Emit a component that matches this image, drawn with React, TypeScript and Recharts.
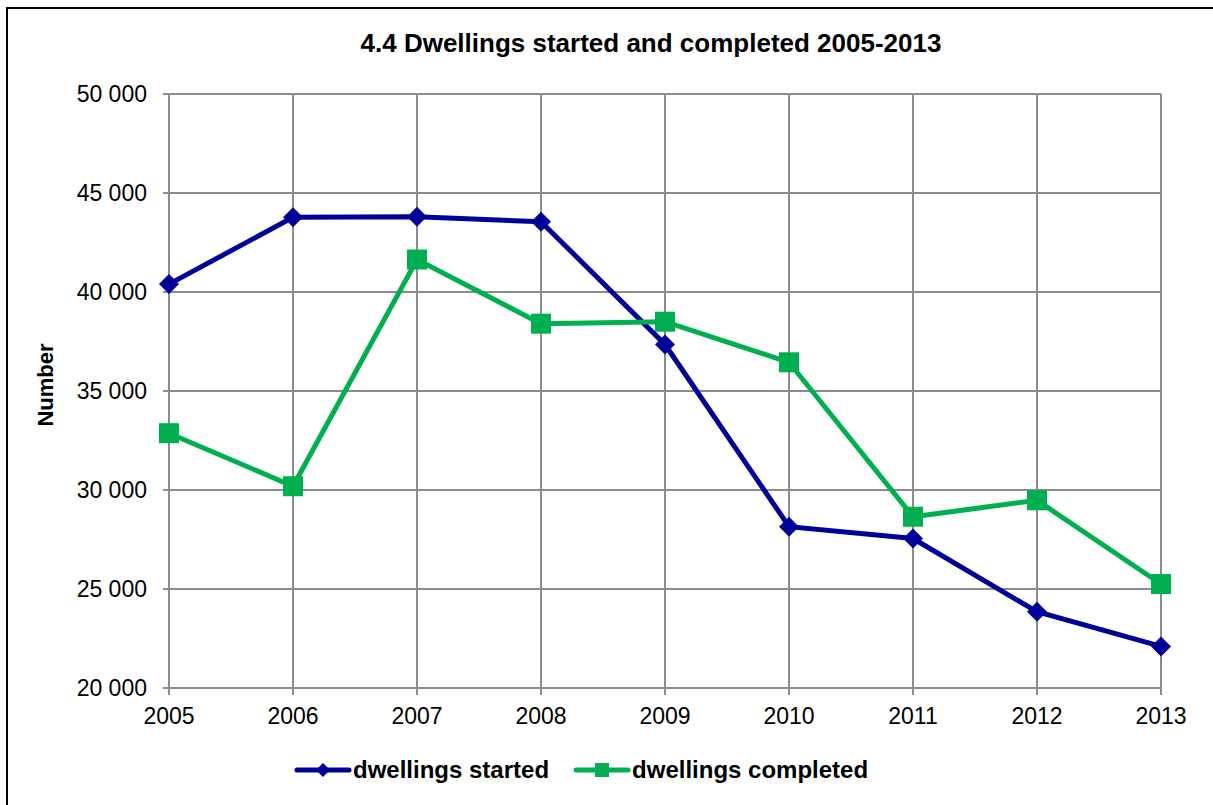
import React from 'react';
import { LineChart, Line, XAxis, YAxis, CartesianGrid, Label } from 'recharts';

const years = [2005, 2006, 2007, 2008, 2009, 2010, 2011, 2012, 2013];
const dwellingsStarted = [40400, 43770, 43800, 43550, 37350, 28150, 27550, 23850, 22100];
const dwellingsCompleted = [32870, 30190, 41640, 38400, 38500, 36450, 28650, 29480, 25250];
const yTicks = [20000, 25000, 30000, 35000, 40000, 45000, 50000];

const data = years.map((y, i) => ({
  year: String(y),
  started: dwellingsStarted[i],
  completed: dwellingsCompleted[i],
}));

const BLUE = '#000099';
const GREEN = '#00B050';
const FONT = '"Liberation Sans", Arial, sans-serif';

const fmt = (v: number) => {
  const s = String(v);
  return s.length > 3 ? s.slice(0, s.length - 3) + ' ' + s.slice(-3) : s;
};

const Diamond = (props: any) => {
  const { cx, cy } = props;
  if (cx == null || cy == null) return null;
  const r = 10;
  return (
    <polygon
      points={`${cx},${cy - r} ${cx + r},${cy} ${cx},${cy + r} ${cx - r},${cy}`}
      fill={BLUE}
    />
  );
};

const Square = (props: any) => {
  const { cx, cy } = props;
  if (cx == null || cy == null) return null;
  const h = 10;
  return <rect x={cx - h} y={cy - h} width={2 * h} height={2 * h} fill={GREEN} />;
};

const YLabel = (props: any) => {
  const vb = props.viewBox || {};
  const x = (vb.x ?? 89) - 44;
  const y = (vb.y ?? 94) + (vb.height ?? 594) / 2 - 6;
  return (
    <text
      x={x}
      y={y}
      transform={`rotate(-90, ${x}, ${y})`}
      textAnchor="middle"
      dominantBaseline="central"
      style={{ fontFamily: FONT, fontWeight: 'bold', fontSize: 22, fill: '#000' }}
    >
      Number
    </text>
  );
};

const LegendItem = ({ color, label, marker, gap }: { color: string; label: string; marker: 'd' | 's'; gap: number }) => (
  <div style={{ display: 'flex', alignItems: 'center', marginRight: gap }}>
    <svg width={58} height={20} style={{ display: 'block' }}>
      <line x1={3} y1={10} x2={55} y2={10} stroke={color} strokeWidth={5} strokeLinecap="round" />
      {marker === 'd' ? (
        <polygon points="29,3 36,10 29,17 22,10" fill={color} />
      ) : (
        <rect x={22} y={3} width={14} height={14} fill={color} />
      )}
    </svg>
    <span style={{ fontFamily: FONT, fontWeight: 'bold', fontSize: 24, color: '#000', marginLeft: 1 }}>{label}</span>
  </div>
);

export default function App() {
  return (
    <div style={{ position: 'absolute', left: 0, top: 0, width: 1213, height: 805, overflow: 'hidden', background: '#fff' }}>
      <div
        style={{
          position: 'absolute',
          left: 6,
          top: 7,
          width: 1220,
          height: 820,
          border: '2px solid #000',
          boxSizing: 'border-box',
        }}
      />
      <div
        style={{
          position: 'absolute',
          left: 0,
          top: 28,
          width: 1302,
          textAlign: 'center',
          fontFamily: FONT,
          fontWeight: 'bold',
          fontSize: 26,
          color: '#000',
        }}
      >
        4.4 Dwellings started and completed 2005-2013
      </div>
      <div style={{ position: 'absolute', left: 0, top: 0 }}>
        <LineChart
          width={1213}
          height={805}
          data={data}
          margin={{ top: 94, right: 52, bottom: 77, left: 89 }}
        >
          <CartesianGrid stroke="#8c8c8c" strokeWidth={2} vertical={true} horizontal={true} />
          <XAxis
            dataKey="year"
            height={40}
            axisLine={{ stroke: '#8c8c8c', strokeWidth: 2 }}
            tickLine={{ stroke: '#8c8c8c', strokeWidth: 2 }}
            tickSize={7}
            tickMargin={13}
            tick={{ fill: '#000', fontFamily: FONT, fontSize: 23 }}
            interval={0}
          />
          <YAxis
            width={80}
            domain={[20000, 50000]}
            ticks={yTicks}
            tickFormatter={fmt}
            axisLine={{ stroke: '#8c8c8c', strokeWidth: 2 }}
            tickLine={{ stroke: '#8c8c8c', strokeWidth: 2 }}
            tickSize={6}
            tickMargin={16}
            tick={{ fill: '#000', fontFamily: FONT, fontSize: 23 }}
          >
            <Label content={<YLabel />} />
          </YAxis>
          <Line
            type="linear"
            dataKey="started"
            stroke={BLUE}
            strokeWidth={5}
            dot={<Diamond />}
            activeDot={false}
            isAnimationActive={false}
          />
          <Line
            type="linear"
            dataKey="completed"
            stroke={GREEN}
            strokeWidth={5}
            dot={<Square />}
            activeDot={false}
            isAnimationActive={false}
          />
        </LineChart>
      </div>
      <div
        style={{
          position: 'absolute',
          left: 294,
          top: 756,
          display: 'flex',
          alignItems: 'center',
        }}
      >
        <LegendItem color={BLUE} label="dwellings started" marker="d" gap={24} />
        <LegendItem color={GREEN} label="dwellings completed" marker="s" gap={0} />
      </div>
    </div>
  );
}
